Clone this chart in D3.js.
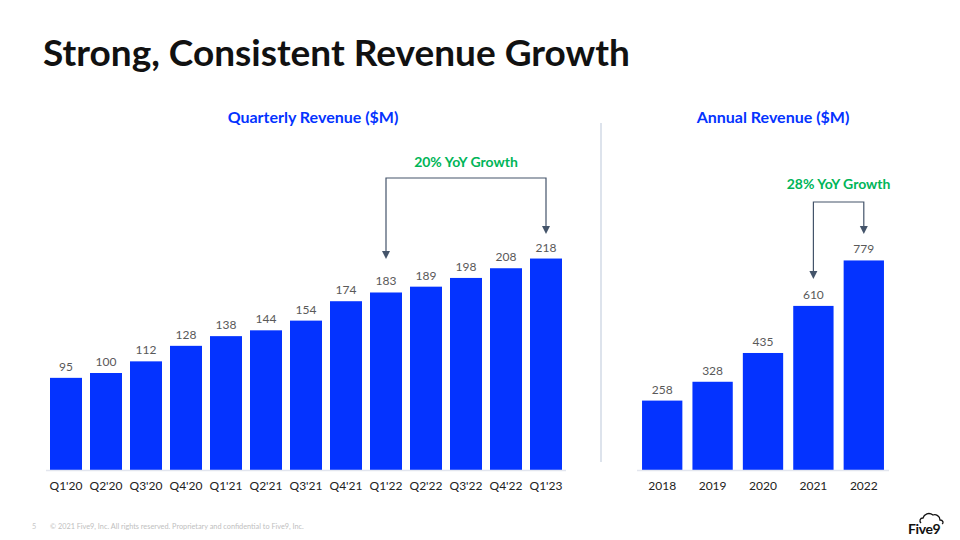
<!DOCTYPE html>
<html><head><meta charset="utf-8">
<script src="https://cdn.jsdelivr.net/npm/d3@7"></script>
<style>
html,body{margin:0;padding:0;background:#fff;}
svg{display:block;font-family:Lato,"Open Sans",sans-serif;}
</style></head>
<body><svg id="c" width="960" height="540"></svg>
<script>
const quarters = ["Q1'20","Q2'20","Q3'20","Q4'20","Q1'21","Q2'21","Q3'21","Q4'21","Q1'22","Q2'22","Q3'22","Q4'22","Q1'23"];
const quarterlyRevenue = [95,100,112,128,138,144,154,174,183,189,198,208,218];
const years = ["2018","2019","2020","2021","2022"];
const annualRevenue = [258,328,435,610,779];
const titleText = "Strong, Consistent Revenue Growth";
const quarterlyTitle = "Quarterly Revenue ($M)";
const annualTitle = "Annual Revenue ($M)";
const quarterlyGrowth = {label:"20% YoY Growth", from:"Q1'22", to:"Q1'23"};
const annualGrowth = {label:"28% YoY Growth", from:"2021", to:"2022"};

const svg = d3.select("#c");
const BLUE = "#0433ff", GREEN = "#00b558", GRAY = "#595959", ARROW = "#44546a";

svg.append("text").attr("x",43).attr("y",66).attr("font-size",37).attr("font-weight",700)
  .attr("fill","#111").text(titleText);

function arrowHead(g, x, yTip){
  g.append("path").attr("d",`M${x-4},${yTip-8} L${x+4},${yTip-8} L${x},${yTip} Z`).attr("fill",ARROW);
}

function panel(cats, vals, xr, ymax, yTop, title, titleX, growth, topY, fromEnd, toEnd, labelY){
  const x = d3.scaleBand().domain(cats).range(xr).paddingInner(0.2).paddingOuter(0.1);
  const y = d3.scaleLinear().domain([0,ymax]).range([470,yTop]);
  const g = svg.append("g");
  g.append("text").attr("x",titleX).attr("y",123).attr("text-anchor","middle")
    .attr("font-size",16).attr("font-weight",700).attr("fill",BLUE).text(title);
  g.selectAll("rect").data(vals).join("rect")
    .attr("x",(d,i)=>x(cats[i])).attr("width",x.bandwidth())
    .attr("y",d=>y(d)).attr("height",d=>y(0)-y(d)).attr("fill",BLUE);
  g.append("line").attr("x1",xr[0]).attr("x2",xr[1]).attr("y1",470.5).attr("y2",470.5)
    .attr("stroke","#e3e6ee").attr("stroke-width",1.5);
  g.selectAll("text.v").data(vals).join("text").attr("class","v")
    .attr("x",(d,i)=>x(cats[i])+x.bandwidth()/2).attr("y",d=>y(d)-7)
    .attr("text-anchor","middle").attr("font-size",12).attr("fill",GRAY).text(d=>d);
  const ax = g.append("g").attr("transform","translate(0,470)")
    .call(d3.axisBottom(x).tickSize(0).tickPadding(11));
  ax.select(".domain").remove();
  ax.selectAll("text").attr("font-size",12).attr("fill","#222").attr("font-family","Lato,'Open Sans',sans-serif");
  const fx = x(growth.from)+x.bandwidth()/2, tx = x(growth.to)+x.bandwidth()/2;
  g.append("path").attr("d",`M${fx},${fromEnd-6} L${fx},${topY} L${tx},${topY} L${tx},${toEnd-6}`)
    .attr("fill","none").attr("stroke",ARROW).attr("stroke-width",1.2);
  arrowHead(g, fx, fromEnd);
  arrowHead(g, tx, toEnd);
  g.append("text").attr("x",(fx+tx)/2).attr("y",labelY).attr("text-anchor","middle")
    .attr("font-size",14).attr("font-weight",700).attr("fill",GREEN).text(growth.label);
}

panel(quarters, quarterlyRevenue, [46,566], 250, 227.5, quarterlyTitle, 313, quarterlyGrowth, 178, 259, 234, 167);
panel(years, annualRevenue, [637,889], 800, 254.8, annualTitle, 773, annualGrowth, 202, 279, 234, 189);

svg.append("line").attr("x1",601).attr("x2",601).attr("y1",123).attr("y2",462)
  .attr("stroke","#dde3ec").attr("stroke-width",2);

svg.append("text").attr("x",32).attr("y",529).attr("font-size",7.3).attr("fill","#c8c8c8").text("5");
svg.append("text").attr("x",50).attr("y",529).attr("font-size",7.3).attr("fill","#c0c0c0")
  .text("© 2021 Five9, Inc. All rights reserved. Proprietary and confidential to Five9, Inc.");

const logo = svg.append("g");
logo.append("path").attr("d","M921,523 C919,521 920,518 923,518 C924,514 929,512 933,515 C936,514 940,516 940,520 C943,520 944,523 942,524")
  .attr("fill","none").attr("stroke","#111").attr("stroke-width",1.3);
logo.append("text").attr("x",908).attr("y",534).attr("font-size",14).attr("font-weight",700)
  .attr("fill","#111").attr("letter-spacing","-0.4").text("Five9");
</script></body></html>
